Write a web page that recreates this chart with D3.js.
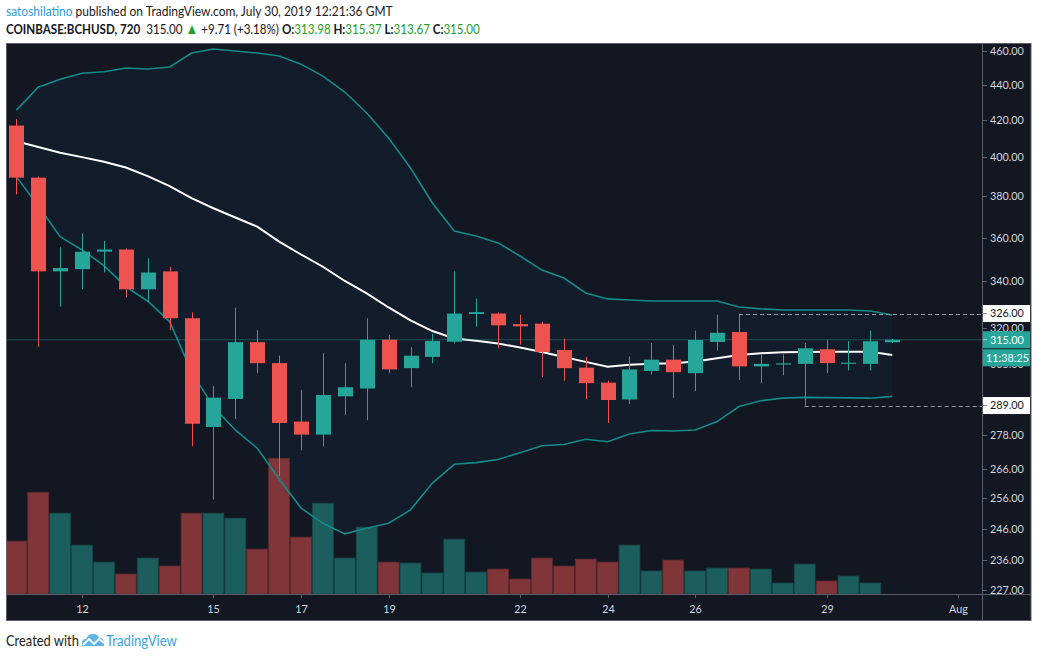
<!DOCTYPE html>
<html><head><meta charset="utf-8">
<script src="https://cdn.jsdelivr.net/npm/d3@7"></script>
<style>html,body{margin:0;padding:0;background:#fff;} svg{display:block;}</style>
</head><body>
<svg id="c" width="1038" height="658"></svg>
<script>
// ---------- DATA ----------
const dates = [
 "2019-07-10T12:00:00Z","2019-07-11T00:00:00Z","2019-07-11T12:00:00Z","2019-07-12T00:00:00Z","2019-07-12T12:00:00Z",
 "2019-07-13T00:00:00Z","2019-07-13T12:00:00Z","2019-07-14T00:00:00Z","2019-07-14T12:00:00Z","2019-07-15T00:00:00Z",
 "2019-07-15T12:00:00Z","2019-07-16T00:00:00Z","2019-07-16T12:00:00Z","2019-07-17T00:00:00Z","2019-07-17T12:00:00Z",
 "2019-07-18T00:00:00Z","2019-07-18T12:00:00Z","2019-07-19T00:00:00Z","2019-07-19T12:00:00Z","2019-07-20T00:00:00Z",
 "2019-07-20T12:00:00Z","2019-07-21T00:00:00Z","2019-07-21T12:00:00Z","2019-07-22T00:00:00Z","2019-07-22T12:00:00Z",
 "2019-07-23T00:00:00Z","2019-07-23T12:00:00Z","2019-07-24T00:00:00Z","2019-07-24T12:00:00Z","2019-07-25T00:00:00Z",
 "2019-07-25T12:00:00Z","2019-07-26T00:00:00Z","2019-07-26T12:00:00Z","2019-07-27T00:00:00Z","2019-07-27T12:00:00Z",
 "2019-07-28T00:00:00Z","2019-07-28T12:00:00Z","2019-07-29T00:00:00Z","2019-07-29T12:00:00Z","2019-07-30T00:00:00Z",
 "2019-07-30T12:00:00Z"];
const open  = [417,389.5,344.5,345.5,353.5,354.5,336.5,344.5,324,281,291.5,314,305.5,283,278.2,292.5,295.5,315,303.5,308,
               314.2,325.8,326,321.5,321.7,310.8,303.7,297.8,291.3,302.4,306.9,301.5,314.1,318.2,304.2,305,305.2,311.1,305.3,305.2,313.98];
const high  = [420.5,390,355.5,362,358.5,355,350.5,346.5,326.5,296.5,328.5,319,308.5,295,309.5,305.5,324,317,312,317.5,
               344.5,332.5,326.5,325.5,322.5,315.5,308,298.6,308.2,313.6,312.8,318.8,325.5,326,309,309,313.6,315,314.4,318.8,315.37];
const low   = [381,312,329,336.5,344,333,331,319,274,255.5,284,301.5,263.5,272.5,274,285.5,283.5,301.5,296,305.5,
               313.5,320.5,311.5,313,300,298.5,291.5,282.5,289.6,301,291.9,294.5,310.6,298.8,297.6,300.7,289,301.5,302.6,302.6,313.67];
const close = [389.5,344.5,346,353.5,354.5,336.5,344,324,282.2,292,314,305.5,282.5,278.2,293,296,315,303,308.5,314.5,
               326,326.6,321,320.6,310,303.5,297.6,291.1,303,306.9,301.9,314.9,317.9,304.2,305.2,305.4,311.5,305.5,305.7,314.4,315.00];
const volume = [26.5,51,40.5,24.5,16,10,18,14,40.5,40.5,38,22.5,68,28.5,45.5,18,33.5,16,15.5,10.5,
                27.5,11,12.5,7.5,18,14,17.5,16,24.5,11.5,17,11.5,13,13,12.5,5.5,15,6.5,9,5.5,0];
const bbUpper = [425.5,438.4,443.0,446.5,447.4,449.6,449.0,450.2,458.5,460.9,459.7,458.5,456.7,451.9,444.9,435.7,423.9,410.2,394.4,376.8,
                 363.2,360.8,357.6,351.5,345.1,341.5,334.9,332.3,331.8,331.4,331.4,331.4,331.4,328.8,328.0,327.5,327.5,327.5,327.5,327.1,325.4];
const bbBasis = [408.5,405.4,402.4,400.1,397.7,394.7,390.3,385.2,379.2,374.2,369.7,365.3,358.2,352.2,346.6,340.2,334.7,328.6,323.1,318.6,
                 315.5,314.6,313.5,311.8,310.0,308.0,306.0,304.1,304.9,305.3,305.5,306.2,307.5,308.8,309.5,309.9,310.0,310.1,310.1,310.1,308.8];
const bbLower = [390.0,375.3,360.5,354.3,347.1,337.7,331.3,322.6,302.0,288.5,279.9,273.3,262.5,252.7,247.7,244.3,246.1,247.7,252.1,261.1,
                 267.6,268.2,269.3,271.7,274.2,274.6,276.5,275.6,278.4,279.7,279.5,279.9,283.0,288.6,290.8,291.8,292.1,292.0,291.9,291.8,292.5];
const priceTicks = [460,440,420,400,380,360,340,320,305,278,266,256,246,236,227];
const dateTicks = ["2019-07-12","2019-07-15","2019-07-17","2019-07-19","2019-07-22","2019-07-24","2019-07-26","2019-07-29","2019-08-01"];
const dateTickLabels = ["12","15","17","19","22","24","26","29","Aug"];
const levels = [326, 289];
const levelStart = ["2019-07-27T00:00:00Z","2019-07-28T12:00:00Z"];
const lastPrice = 315.00;
const countdown = "11:38:25";

// ---------- CHART ----------
const W = 1038, H = 658;
const P = {x0: 6, x1: 982, y0: 43, y1: 594};
const UP = "#26a69a", DN = "#ef5350";
const svg = d3.select("#c");
svg.append("rect").attr("width", W).attr("height", H).attr("fill", "#fff");
svg.append("rect").attr("x", 6.5).attr("y", 43.5).attr("width", 1024.5).attr("height", 577)
  .attr("fill", "#131722").attr("stroke", "#5d606b").attr("stroke-width", 1);

const t = dates.map(d => new Date(d));
const x = d3.scaleTime().domain([new Date("2019-07-10T06:20:00Z"), new Date("2019-08-01T13:10:00Z")]).range([P.x0, P.x1]);
const y = d3.scaleLog().domain([225.8, 464.4]).range([P.y1, 43.3]);
const yv = d3.scaleLinear().domain([0, 68]).range([P.y1, 458.3]);
const step = x(t[1]) - x(t[0]);

svg.append("clipPath").attr("id", "clip").append("rect")
  .attr("x", P.x0 + 1).attr("y", P.y0 + 1).attr("width", P.x1 - P.x0 - 1).attr("height", P.y1 - P.y0 - 1);
const g = svg.append("g").attr("clip-path", "url(#clip)");

const idx = d3.range(dates.length);

// BB fill
g.append("path").datum(idx)
  .attr("d", d3.area().x(i => x(t[i])).y0(i => y(bbLower[i])).y1(i => y(bbUpper[i])))
  .attr("fill", "rgba(33,150,243,0.045)");

// volume
g.selectAll("rect.vol").data(idx.filter(i => volume[i] > 0)).join("rect").attr("class", "vol")
  .attr("x", i => x(t[i]) - step / 2 + 0.5).attr("width", step - 1)
  .attr("y", i => yv(volume[i])).attr("height", i => P.y1 - yv(volume[i]))
  .attr("fill", i => close[i] >= open[i] ? "#1c5e5e" : "#803539")
  .attr("stroke", i => close[i] >= open[i] ? "#17474a" : "#5e2a30").attr("stroke-width", 0.8);

// bands
const line = arr => d3.line().x(i => x(t[i])).y(i => y(arr[i]));
g.append("path").datum(idx).attr("d", line(bbUpper)).attr("fill", "none").attr("stroke", "#138b8b").attr("stroke-width", 1.6);
g.append("path").datum(idx).attr("d", line(bbLower)).attr("fill", "none").attr("stroke", "#138b8b").attr("stroke-width", 1.6);
g.append("path").datum(idx).attr("d", line(bbBasis)).attr("fill", "none").attr("stroke", "#ffffff").attr("stroke-width", 2);

// last price line
g.append("line").attr("x1", P.x0).attr("x2", P.x1).attr("y1", y(lastPrice)).attr("y2", y(lastPrice))
  .attr("stroke", "#26a69a").attr("stroke-opacity", 0.4).attr("stroke-width", 1);

// candles
const bw = 15;
const c = g.selectAll("g.candle").data(idx).join("g");
c.append("line").attr("x1", i => Math.round(x(t[i])) + 0.5).attr("x2", i => Math.round(x(t[i])) + 0.5)
  .attr("y1", i => y(high[i])).attr("y2", i => y(low[i]))
  .attr("stroke", i => close[i] >= open[i] ? UP : DN).attr("stroke-width", 1);
c.append("rect").attr("x", i => Math.round(x(t[i])) + 0.5 - bw / 2).attr("width", bw)
  .attr("y", i => y(Math.max(open[i], close[i])))
  .attr("height", i => Math.max(1.2, y(Math.min(open[i], close[i])) - y(Math.max(open[i], close[i]))))
  .attr("fill", i => close[i] >= open[i] ? UP : DN);

// level dashed lines
levels.forEach((v, k) => {
  svg.append("line").attr("x1", x(new Date(levelStart[k]))).attr("x2", P.x1)
    .attr("y1", Math.round(y(v)) + 0.5).attr("y2", Math.round(y(v)) + 0.5)
    .attr("stroke", "#9598a1").attr("stroke-width", 1).attr("stroke-dasharray", "4,3");
});

// separators
svg.append("line").attr("x1", P.x1 + 0.5).attr("x2", P.x1 + 0.5).attr("y1", 43).attr("y2", 621).attr("stroke", "#5d606b");
svg.append("line").attr("x1", 6).attr("x2", 1031).attr("y1", P.y1 + 0.5).attr("y2", P.y1 + 0.5).attr("stroke", "#5d606b");

// right axis
const FONT = "Lato, 'Liberation Sans', sans-serif";
const AFS = 10.8;
const ax = svg.append("g");
priceTicks.forEach(v => {
  const yy = Math.round(y(v)) + 0.5;
  ax.append("line").attr("x1", P.x1 + 1).attr("x2", P.x1 + 5).attr("y1", yy).attr("y2", yy).attr("stroke", "#5d606b");
  ax.append("text").attr("x", 990).attr("y", yy).attr("dy", "0.35em").attr("fill", "#d1d4dc")
    .attr("font-family", FONT).attr("font-size", AFS).text(d3.format(".2f")(v));
});
function axisLabel(txt, bg, fg, yc) {
  ax.append("rect").attr("x", P.x1 + 1).attr("y", yc - 8.5).attr("width", 1030 - P.x1 - 1).attr("height", 17).attr("fill", bg);
  ax.append("line").attr("x1", P.x1 + 1).attr("x2", P.x1 + 5).attr("y1", yc).attr("y2", yc).attr("stroke", fg).attr("stroke-opacity", 0.5);
  ax.append("text").attr("x", 990).attr("y", yc).attr("dy", "0.36em").attr("fill", fg)
    .attr("font-family", FONT).attr("font-size", AFS).text(txt);
}
levels.forEach(v => axisLabel(d3.format(".2f")(v), "#ffffff", "#131722", y(v)));
axisLabel(d3.format(".2f")(lastPrice), "#26a69a", "#ffffff", y(lastPrice));
ax.append("rect").attr("x", P.x1 + 1).attr("y", y(lastPrice) + 9.5).attr("width", 1030 - P.x1 - 1).attr("height", 17).attr("fill", "#26a69a");
ax.append("text").attr("x", 986).attr("y", y(lastPrice) + 18).attr("dy", "0.36em").attr("fill", "#fff")
  .attr("font-family", FONT).attr("font-size", AFS).text(countdown);

// bottom axis
dateTicks.forEach((d, k) => {
  const xx = Math.round(x(new Date(d + "T00:00:00Z"))) + 0.5;
  svg.append("line").attr("x1", xx).attr("x2", xx).attr("y1", P.y1 + 1).attr("y2", P.y1 + 4).attr("stroke", "#5d606b");
  svg.append("text").attr("x", xx).attr("y", 609).attr("dy", "0.35em").attr("text-anchor", "middle")
    .attr("fill", "#d1d4dc").attr("font-family", FONT).attr("font-size", AFS).text(dateTickLabels[k]);
});

// fit a text element horizontally to a target width by a horizontal scale
function fit(sel, x0, y0, target) {
  const w = sel.node().getComputedTextLength();
  sel.attr("transform", `translate(${x0},${y0}) scale(${target / w},1)`);
}

// header
const HF = "Lato, 'Open Sans', sans-serif";
const h1 = svg.append("text").attr("font-family", HF).attr("font-size", 13.5).attr("fill", "#222");
h1.append("tspan").attr("fill", "#2a9be0").text("satoshilatino");
h1.append("tspan").text(" published on TradingView.com, July 30, 2019 12:21:36 GMT");
fit(h1, 6, 16, 387);
const GR = "#22a02a";
const h2 = svg.append("text").attr("font-family", HF).attr("font-size", 13.5).attr("fill", "#131722");
h2.append("tspan").attr("font-weight", "bold").text("COINBASE:BCHUSD, 720");
h2.append("tspan").text("\u00a0 315.00 ");
h2.append("tspan").attr("fill", GR).attr("font-size", 15).text("\u25B2");
h2.append("tspan").text(" +9.71 (+3.18%) ");
[["O:", "313.98"], ["H:", "315.37"], ["L:", "313.67"], ["C:", "315.00"]].forEach((p, k) => {
  h2.append("tspan").attr("font-weight", "bold").text((k ? " " : "") + p[0]);
  h2.append("tspan").attr("fill", GR).text(p[1]);
});
fit(h2, 6, 34, 474);

// footer
const f1 = svg.append("text").attr("font-family", HF).attr("font-size", 14.5).attr("fill", "#222").text("Created with");
fit(f1, 6, 646, 73);
const logo = svg.append("g").attr("transform", "translate(82,633)");
logo.append("path").attr("d", "M0,13 L0,10 Q0,6 4,6 Q6,1 11,1 Q16,1 17,5 Q22,5 22,10 L22,13 Z").attr("fill", "#5bb5e6");
logo.append("path").attr("d", "M1,12 L7,6 L12,11 L17,6 L22,10").attr("fill", "none").attr("stroke", "#fff").attr("stroke-width", 1.8);
const f2 = svg.append("text").attr("font-family", HF).attr("font-size", 14.5).attr("fill", "#3aa3e3").text("TradingView");
fit(f2, 106, 646, 71);
</script>
</body></html>
